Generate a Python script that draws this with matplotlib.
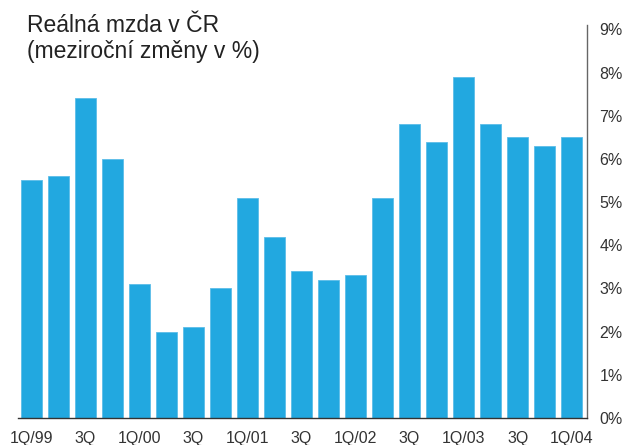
import numpy as np
import matplotlib
matplotlib.use("Agg")
import matplotlib.pyplot as plt

# quarterly data 1Q/99 - 1Q/04
quarters = ["1Q/99", "2Q", "3Q", "4Q",
            "1Q/00", "2Q", "3Q", "4Q",
            "1Q/01", "2Q", "3Q", "4Q",
            "1Q/02", "2Q", "3Q", "4Q",
            "1Q/03", "2Q", "3Q", "4Q",
            "1Q/04"]
real_wage = [5.5, 5.6, 7.4, 6.0,
             3.1, 2.0, 2.1, 3.0,
             5.1, 4.2, 3.4, 3.2,
             3.3, 5.1, 6.8, 6.4,
             7.9, 6.8, 6.5, 6.3,
             6.5]
y_ticks = [0, 1, 2, 3, 4, 5, 6, 7, 8, 9]

plt.rcParams['font.family'] = ['Liberation Sans', 'DejaVu Sans']

fig = plt.figure(figsize=(6.32, 4.45), dpi=100)
ax = fig.add_axes([18 / 632, 1 - 418 / 445, (587 - 18) / 632, (418 - 25) / 445])

x = np.arange(len(real_wage))
ax.bar(x, real_wage, width=0.78, color='#22a8e0', edgecolor='#5cbde8', linewidth=0.6)

ax.set_xlim(-0.5, len(real_wage) - 0.43)
ax.set_ylim(0, 9.1)

ax.set_xticks(x[::2])
ax.set_xticklabels(quarters[::2])
ax.yaxis.tick_right()
ax.set_yticks(y_ticks)
ax.set_yticklabels([f"{t}%" for t in y_ticks])
ax.tick_params(axis='both', length=0, labelsize=11.5, colors='#333333')
ax.tick_params(axis='x', pad=9.5)
ax.tick_params(axis='y', pad=9)

for s in ['top', 'left']:
    ax.spines[s].set_visible(False)
ax.spines['bottom'].set_color('#333333')
ax.spines['bottom'].set_linewidth(1.0)
ax.spines['right'].set_color('#666666')
ax.spines['right'].set_linewidth(1.0)

fig.text(27 / 632, 1 - 32 / 445, "Reálná mzda v ČR", fontsize=16.5, color='#222222', va='baseline')
fig.text(27 / 632, 1 - 58 / 445, "(meziroční změny v %)", fontsize=16.5, color='#222222', va='baseline')

fig.savefig("out.png", dpi=100)
